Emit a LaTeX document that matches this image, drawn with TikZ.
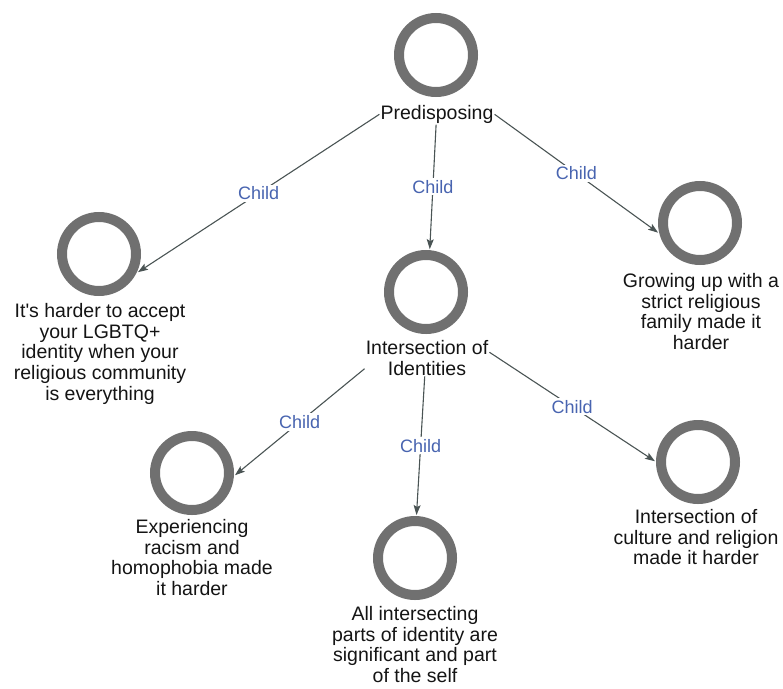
\documentclass[tikz,border=0pt]{standalone}
\usepackage{fontspec}
\setmainfont{Liberation Sans}
\usetikzlibrary{arrows.meta}
\definecolor{ringgray}{RGB}{112,112,112}
\definecolor{edgegray}{RGB}{74,84,84}
\definecolor{childblue}{RGB}{72,100,176}
\definecolor{captionblack}{RGB}{20,20,20}
\begin{document}
\begin{tikzpicture}[x=1pt,y=-1pt,
  ring/.style={circle, draw=ringgray, line width=10pt, minimum size=74pt,
    inner sep=0pt, outer sep=6pt},
  caption/.style={anchor=north, align=center, inner sep=1pt, text=captionblack,
    font=\fontsize{19.5}{20.7}\selectfont},
  edge/.style={draw=edgegray, line width=1.1pt,
    -{Stealth[length=10pt,width=7pt,inset=2pt]}},
  childtag/.style={fill=white, text=childblue, inner sep=2pt,
    font=\fontsize{18}{20}\selectfont}]
\useasboundingbox (0,0) rectangle (783,688);

% concepts: a ring with its caption underneath
\node[ring] (c0) at (436,55) {};
\node[caption] (t0) at (437,104) {Predisposing};

\node[ring] (c1) at (99,254) {};
\node[caption] (t1) at (100,302) {It\textquotesingle s harder to accept\\your LGBTQ+\\identity when your\\religious community\\is everything};

\node[ring] (c2) at (426,292) {};
\node[caption] (t2) at (427,339) {Intersection of\\Identities};

\node[ring] (c3) at (700,223) {};
\node[caption] (t3) at (701,272) {Growing up with a\\strict religious\\family made it\\harder};

\node[ring] (c4) at (192,473) {};
\node[caption] (t4) at (192,518) {Experiencing\\racism and\\homophobia made\\it harder};

\node[ring] (c5) at (415,558) {};
\node[caption] (t5) at (415,605) {All intersecting\\parts of identity are\\significant and part\\of the self};

\node[ring] (c6) at (698,462) {};
\node[caption] (t6) at (696,508) {Intersection of\\culture and religion\\made it harder};

% parent-child links
\draw[edge] (t0.west) -- node[childtag]{Child} (c1.-25);
\draw[edge] (t0.265) -- node[childtag]{Child} (c2.85);
\draw[edge] (t0.east) -- node[childtag]{Child} (c3.193);
\draw[edge] (t2.190) -- node[childtag]{Child} (c4.-3);
\draw[edge] (t2.263) -- node[childtag]{Child} (c5.88);
\draw[edge] (t2.5) -- node[childtag]{Child} (c6.179);
\end{tikzpicture}
\end{document}
